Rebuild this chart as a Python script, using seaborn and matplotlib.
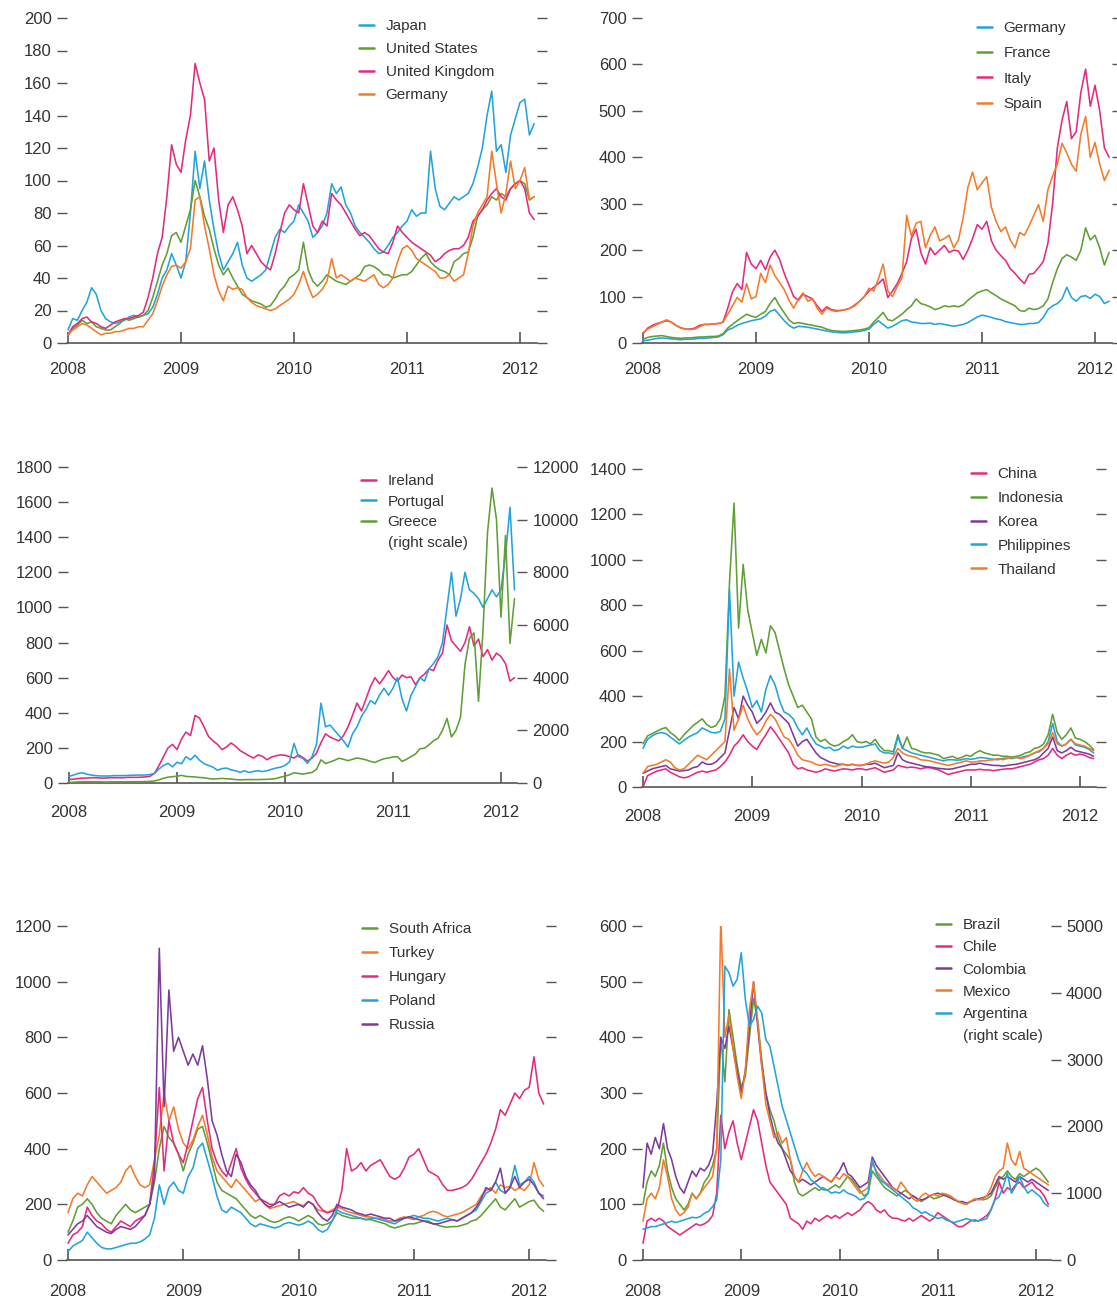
import numpy as np
import matplotlib
matplotlib.use("Agg")
import matplotlib.pyplot as plt
from matplotlib import font_manager
from matplotlib.lines import Line2D
import seaborn as sns

# half-monthly observations, Jan 2008 to Feb 2012
dates = 2008 + np.arange(100) / 24
years = [2008, 2009, 2010, 2011, 2012]

# --- panel 1 ---
japan = [8, 15, 14, 20, 25, 34, 30, 20, 15, 13,
         12, 13, 14, 16, 17, 16, 17, 18, 22, 30,
         40, 45, 55, 48, 40, 50, 80, 118, 95, 112,
         88, 70, 55, 45, 50, 55, 62, 48, 40, 38,
         40, 42, 45, 55, 65, 70, 68, 72, 75, 85,
         80, 75, 65, 68, 72, 80, 98, 92, 96, 85,
         80, 72, 68, 65, 62, 58, 55, 56, 60, 65,
         68, 72, 75, 82, 78, 80, 80, 118, 95, 84,
         82, 86, 90, 88, 90, 92, 98, 108, 120, 140,
         155, 118, 122, 105, 128, 138, 148, 150, 128, 135]
united_states = [5, 9, 11, 14, 12, 13, 10, 9, 8, 8,
                 10, 12, 15, 14, 15, 16, 17, 20, 28, 38,
                 48, 55, 66, 68, 62, 72, 82, 100, 90, 78,
                 70, 58, 48, 42, 46, 40, 35, 30, 28, 26,
                 25, 24, 22, 23, 27, 32, 35, 40, 42, 45,
                 62, 45, 38, 35, 38, 42, 40, 38, 37, 36,
                 38, 40, 42, 47, 48, 47, 45, 42, 42, 40,
                 41, 42, 42, 44, 48, 52, 55, 50, 47, 45,
                 44, 42, 50, 52, 55, 56, 65, 78, 82, 85,
                 90, 88, 92, 90, 95, 98, 100, 98, 88, 90]
united_kingdom = [5, 10, 12, 15, 16, 13, 12, 10, 9, 11,
                  13, 14, 15, 15, 16, 17, 19, 28, 40, 55,
                  65, 90, 122, 110, 105, 125, 140, 172, 160, 150,
                  112, 120, 88, 68, 85, 90, 82, 72, 55, 60,
                  55, 50, 47, 45, 55, 68, 80, 85, 82, 80,
                  98, 85, 72, 68, 75, 72, 92, 88, 85, 80,
                  75, 70, 66, 68, 66, 62, 58, 56, 55, 62,
                  72, 68, 65, 62, 60, 58, 56, 54, 50, 52,
                  55, 57, 58, 58, 60, 65, 75, 78, 82, 88,
                  92, 95, 90, 88, 95, 98, 100, 95, 80, 76]
germany_1 = [5, 8, 10, 12, 11, 9, 7, 5, 6, 6,
             7, 7, 8, 9, 9, 10, 10, 14, 18, 26,
             35, 42, 47, 48, 46, 50, 58, 88, 90, 72,
             58, 42, 32, 26, 35, 33, 34, 33, 28, 25,
             23, 22, 21, 20, 21, 23, 25, 27, 30, 36,
             44, 35, 28, 30, 33, 38, 52, 40, 42, 40,
             38, 40, 39, 38, 40, 42, 36, 34, 36, 40,
             50, 58, 60, 57, 52, 50, 48, 46, 44, 40,
             40, 42, 38, 40, 42, 55, 72, 80, 85, 90,
             118, 98, 80, 92, 112, 95, 100, 108, 88, 90]

# --- panel 2 ---
germany_2 = [5, 6, 8, 10, 11, 10, 9, 8, 7, 8,
             8, 9, 10, 10, 11, 12, 13, 18, 28, 32,
             38, 42, 45, 48, 50, 52, 58, 68, 72, 60,
             48, 38, 32, 36, 35, 34, 32, 30, 28, 26,
             24, 23, 22, 22, 23, 24, 25, 27, 30, 40,
             48, 40, 32, 36, 42, 48, 50, 45, 44, 42,
             42, 43, 40, 42, 40, 38, 36, 38, 40, 44,
             50, 56, 60, 58, 55, 52, 50, 46, 44, 42,
             40, 40, 42, 42, 44, 55, 72, 80, 85, 95,
             120, 98, 90, 100, 102, 96, 105, 100, 85, 90]
france = [8, 12, 14, 15, 16, 14, 12, 11, 10, 11,
          11, 12, 13, 13, 14, 14, 15, 20, 32, 40,
          48, 55, 62, 58, 55, 62, 68, 85, 98, 80,
          65, 50, 42, 44, 42, 40, 38, 36, 34, 30,
          27, 26, 25, 25, 26, 27, 28, 30, 33, 45,
          55, 66, 50, 48, 55, 62, 72, 80, 95, 85,
          82, 78, 72, 75, 80, 78, 80, 78, 82, 92,
          100, 108, 112, 115, 108, 102, 95, 90, 85, 80,
          70, 68, 75, 72, 74, 80, 95, 130, 160, 182,
          190, 185, 178, 200, 248, 222, 232, 205, 168, 195]
italy = [20, 32, 38, 42, 45, 48, 45, 38, 33, 30,
         30, 32, 38, 40, 40, 41, 42, 45, 75, 110,
         128, 115, 195, 170, 160, 178, 158, 185, 200, 180,
         150, 125, 100, 92, 105, 100, 95, 80, 68, 78,
         72, 70, 70, 72, 75, 82, 90, 100, 112, 120,
         128, 138, 98, 112, 128, 150, 175, 225, 245, 195,
         170, 205, 190, 200, 210, 195, 200, 198, 180, 200,
         225, 255, 245, 262, 220, 200, 188, 178, 160, 150,
         138, 128, 148, 150, 162, 175, 215, 300, 420, 480,
         520, 440, 455, 540, 590, 510, 555, 500, 420, 400]
spain = [22, 30, 35, 40, 45, 50, 45, 38, 32, 30,
         29, 30, 35, 40, 40, 41, 42, 45, 62, 80,
         98, 88, 128, 95, 100, 150, 130, 168, 145, 130,
         115, 92, 75, 95, 108, 90, 95, 75, 62, 75,
         70, 68, 70, 72, 75, 80, 90, 100, 118, 112,
         138, 170, 112, 100, 122, 140, 275, 230, 258, 262,
         205, 232, 250, 220, 225, 232, 205, 222, 270, 335,
         368, 330, 345, 358, 292, 262, 240, 250, 222, 205,
         238, 232, 252, 275, 298, 262, 330, 360, 385, 430,
         410, 385, 370, 450, 488, 400, 432, 385, 350, 372]

# --- panel 3 ---
ireland = [20, 22, 25, 28, 28, 30, 30, 28, 28, 30,
           30, 30, 30, 32, 32, 32, 33, 35, 38, 55,
           100, 150, 200, 220, 190, 250, 290, 270, 385, 370,
           320, 265, 240, 220, 190, 205, 228, 210, 185, 170,
           155, 142, 160, 152, 132, 148, 155, 160, 158, 150,
           142, 160, 145, 125, 142, 170, 230, 280, 262, 250,
           240, 270, 320, 385, 455, 410, 480, 550, 600, 565,
           600, 640, 600, 580, 615, 600, 605, 560, 600, 620,
           650, 640, 700, 740, 900, 810, 780, 750, 800, 890,
           780, 820, 720, 760, 700, 740, 720, 680, 580, 600]
portugal = [38, 45, 55, 58, 50, 45, 42, 40, 40, 40,
            42, 42, 42, 43, 44, 45, 45, 46, 48, 55,
            80, 100, 112, 92, 118, 110, 150, 132, 158, 130,
            110, 100, 90, 72, 82, 85, 75, 70, 60, 70,
            60, 66, 70, 65, 70, 78, 85, 90, 100, 120,
            225, 150, 140, 112, 150, 220, 455, 320, 330, 300,
            270, 240, 205, 280, 320, 380, 420, 470, 450, 500,
            540, 500, 540, 600, 480, 410, 500, 550, 600, 580,
            650, 680, 720, 800, 1000, 1200, 950, 1050, 1200, 1100,
            1080, 1050, 1000, 1050, 1100, 1060, 1100, 1300, 1570, 1100]
greece = [20, 30, 40, 45, 50, 50, 45, 45, 40, 40,
          45, 45, 45, 48, 50, 50, 52, 55, 60, 80,
          120, 180, 220, 240, 260, 290, 250, 240, 230, 210,
          200, 170, 150, 160, 175, 160, 150, 130, 120, 125,
          130, 128, 130, 135, 140, 150, 170, 220, 260, 310,
          390, 360, 340, 370, 400, 520, 880, 740, 800, 860,
          940, 900, 850, 900, 950, 920, 880, 820, 780, 860,
          920, 950, 990, 1000, 820, 900, 1000, 1100, 1300, 1320,
          1450, 1600, 1700, 2000, 2450, 1750, 2000, 2500, 4500, 5500,
          5700, 3100, 5800, 9500, 11200, 10000, 6300, 9400, 5300, 7000]

# --- panel 4 ---
china = [0, 50, 60, 70, 75, 80, 65, 55, 45, 40,
         45, 55, 65, 70, 65, 70, 75, 90, 110, 140,
         180, 200, 230, 200, 180, 165, 200, 230, 265, 240,
         210, 180, 150, 100, 80, 85, 75, 70, 65, 70,
         80, 75, 70, 75, 80, 78, 75, 80, 80, 75,
         80, 85, 75, 65, 70, 75, 95, 90, 85, 88,
         85, 80, 85, 85, 80, 75, 65, 55, 60, 65,
         70, 75, 75, 75, 78, 75, 75, 72, 75, 78,
         80, 80, 85, 90, 95, 100, 110, 120, 125, 140,
         170, 140, 125, 140, 150, 140, 145, 140, 130, 125]
indonesia = [190, 225, 235, 245, 255, 262, 240, 225, 205, 230,
             250, 270, 285, 300, 275, 262, 270, 300, 400, 900,
             1250, 700, 980, 780, 680, 580, 650, 590, 710, 680,
             600, 520, 450, 400, 350, 360, 330, 300, 220, 200,
             210, 190, 180, 185, 200, 210, 230, 200, 195, 200,
             190, 210, 180, 160, 160, 155, 230, 170, 220, 170,
             165, 155, 150, 150, 145, 140, 125, 130, 135, 125,
             130, 140, 135, 150, 160, 150, 145, 140, 140, 135,
             135, 132, 135, 140, 150, 155, 170, 175, 190, 230,
             320, 240, 210, 230, 260, 215, 210, 200, 185, 165]
korea = [60, 70, 80, 85, 90, 95, 80, 75, 70, 72,
         75, 85, 90, 110, 100, 100, 110, 130, 150, 250,
         350, 300, 400, 360, 330, 280, 300, 330, 370, 330,
         320, 300, 280, 230, 180, 200, 210, 180, 150, 130,
         120, 110, 105, 100, 100, 95, 100, 95, 95, 100,
         100, 105, 95, 85, 90, 95, 150, 120, 110, 105,
         100, 95, 90, 88, 85, 82, 80, 78, 80, 85,
         90, 95, 100, 100, 105, 100, 98, 95, 95, 92,
         95, 98, 100, 105, 110, 115, 120, 130, 150, 170,
         220, 160, 150, 160, 175, 160, 155, 150, 145, 135]
philippines = [170, 210, 225, 235, 240, 235, 220, 205, 190, 205,
               220, 230, 240, 260, 250, 240, 238, 245, 300, 870,
               400, 550, 480, 420, 350, 380, 330, 430, 490, 450,
               380, 330, 320, 300, 260, 230, 260, 220, 190, 180,
               170, 175, 160, 165, 180, 170, 180, 175, 175, 180,
               185, 190, 160, 150, 150, 145, 220, 170, 160, 150,
               145, 140, 135, 130, 125, 120, 115, 120, 120, 118,
               120, 125, 122, 125, 130, 128, 125, 122, 120, 125,
               128, 125, 130, 130, 135, 140, 150, 155, 170, 200,
               280, 200, 180, 190, 210, 185, 180, 175, 165, 150]
thailand = [60, 90, 95, 100, 110, 120, 110, 85, 75, 80,
            100, 120, 140, 130, 120, 140, 160, 180, 200, 520,
            250, 300, 360, 300, 260, 230, 250, 290, 320, 300,
            260, 220, 210, 180, 140, 120, 115, 110, 100, 95,
            100, 95, 90, 95, 100, 95, 100, 95, 95, 100,
            110, 115, 110, 105, 110, 130, 170, 150, 140, 135,
            130, 120, 118, 115, 110, 105, 100, 95, 100, 105,
            110, 115, 110, 110, 115, 115, 118, 120, 125, 120,
            125, 130, 130, 125, 130, 140, 150, 160, 170, 190,
            240, 190, 180, 190, 210, 190, 185, 180, 170, 160]

# --- panel 5 ---
south_africa = [100, 140, 190, 200, 220, 200, 170, 150, 140, 130,
                160, 180, 200, 180, 170, 180, 190, 200, 280, 400,
                480, 440, 420, 380, 320, 380, 420, 470, 480, 420,
                350, 280, 250, 240, 230, 220, 200, 180, 160, 150,
                160, 150, 140, 135, 140, 150, 155, 150, 140, 150,
                160, 150, 130, 125, 130, 140, 170, 160, 155, 150,
                150, 150, 145, 145, 140, 135, 130, 120, 115, 120,
                125, 130, 130, 135, 140, 140, 130, 125, 120, 118,
                120, 120, 125, 130, 140, 145, 160, 180, 200, 220,
                190, 180, 200, 220, 190, 200, 210, 215, 190, 175]
turkey = [170, 220, 240, 230, 270, 300, 280, 260, 240, 250,
          260, 280, 320, 340, 300, 270, 260, 270, 360, 450,
          600, 500, 550, 470, 420, 400, 430, 480, 520, 450,
          370, 320, 300, 280, 260, 290, 270, 250, 230, 210,
          220, 200, 185, 190, 195, 200, 205, 210, 200, 195,
          210, 200, 180, 175, 170, 180, 190, 185, 175, 170,
          165, 160, 155, 155, 150, 150, 145, 140, 140, 150,
          155, 150, 145, 155, 160, 170, 175, 170, 160, 155,
          160, 165, 170, 180, 190, 200, 230, 250, 260, 240,
          270, 260, 265, 250, 260, 250, 270, 350, 290, 265]
hungary = [60, 90, 100, 120, 190, 160, 140, 130, 110, 100,
           120, 140, 130, 120, 140, 150, 160, 200, 350, 620,
           320, 500, 420, 380, 350, 420, 500, 580, 620, 500,
           400, 350, 320, 300, 350, 400, 330, 290, 260, 240,
           220, 210, 200, 200, 230, 240, 230, 245, 240, 260,
           240, 230, 200, 180, 170, 175, 180, 250, 400, 320,
           330, 350, 320, 340, 350, 360, 330, 300, 290, 300,
           330, 370, 380, 400, 360, 320, 310, 300, 270, 250,
           250, 255, 260, 270, 290, 320, 350, 380, 420, 470,
           540, 520, 560, 600, 580, 610, 620, 730, 600, 560]
poland = [30, 50, 60, 70, 100, 80, 60, 45, 40, 40,
          45, 50, 55, 60, 60, 65, 75, 90, 150, 270,
          200, 260, 280, 250, 240, 300, 330, 400, 420, 360,
          300, 230, 180, 170, 190, 180, 170, 150, 130, 120,
          130, 125, 120, 115, 120, 130, 135, 130, 125, 130,
          140, 130, 110, 100, 110, 140, 180, 170, 165, 160,
          155, 150, 145, 150, 150, 145, 140, 135, 130, 140,
          150, 155, 160, 155, 150, 150, 145, 140, 145, 150,
          145, 140, 150, 160, 170, 180, 210, 240, 250, 280,
          250, 240, 260, 340, 270, 280, 300, 280, 240, 230]
russia = [90, 110, 130, 140, 160, 140, 120, 110, 100, 95,
          110, 120, 115, 110, 120, 140, 160, 200, 300, 1120,
          550, 970, 750, 800, 750, 700, 740, 700, 770, 650,
          500, 450, 380, 320, 300, 380, 350, 300, 270, 250,
          220, 200, 190, 200, 210, 200, 190, 195, 200, 190,
          210, 200, 170, 150, 140, 160, 200, 190, 185, 180,
          170, 165, 160, 165, 160, 155, 150, 150, 140, 145,
          150, 155, 150, 145, 140, 135, 130, 130, 135, 140,
          145, 140, 150, 160, 170, 190, 220, 260, 250, 280,
          330, 240, 260, 300, 260, 280, 290, 270, 240, 220]

# --- panel 6 ---
brazil = [100, 140, 160, 150, 170, 210, 160, 130, 110, 100,
          90, 100, 120, 110, 120, 140, 150, 170, 200, 400,
          320, 450, 400, 350, 310, 330, 400, 470, 430, 360,
          300, 270, 250, 220, 200, 190, 180, 140, 120, 115,
          120, 125, 130, 125, 130, 125, 130, 135, 130, 140,
          150, 145, 135, 125, 115, 120, 160, 150, 140, 130,
          125, 120, 115, 120, 125, 120, 115, 110, 105, 110,
          115, 110, 112, 115, 118, 115, 110, 105, 102, 100,
          105, 108, 110, 108, 110, 115, 130, 145, 150, 160,
          150, 145, 155, 150, 155, 160, 165, 160, 150, 140]
chile = [30, 70, 75, 70, 75, 70, 60, 55, 50, 45,
         50, 55, 60, 65, 62, 65, 70, 80, 120, 260,
         200, 230, 250, 210, 180, 210, 240, 270, 250, 210,
         170, 140, 130, 120, 110, 100, 75, 70, 65, 55,
         70, 65, 75, 70, 75, 80, 75, 80, 75, 80,
         85, 80, 85, 90, 100, 105, 100, 90, 85, 90,
         80, 75, 75, 72, 70, 75, 70, 75, 80, 75,
         70, 75, 85, 80, 75, 70, 65, 60, 60, 65,
         70, 72, 70, 75, 80, 90, 110, 140, 120, 130,
         125, 135, 140, 130, 135, 140, 130, 125, 115, 100]
colombia = [130, 210, 190, 220, 200, 245, 200, 180, 150, 130,
            120, 140, 160, 150, 165, 160, 170, 190, 280, 400,
            380, 420, 380, 340, 300, 340, 420, 500, 420, 350,
            300, 260, 230, 210, 200, 180, 160, 150, 140, 145,
            140, 135, 140, 145, 150, 145, 140, 150, 160, 175,
            155, 150, 140, 130, 135, 140, 185, 170, 160, 150,
            140, 130, 125, 120, 115, 110, 115, 110, 108, 110,
            115, 118, 120, 118, 115, 112, 108, 105, 105, 102,
            105, 108, 110, 112, 115, 120, 135, 150, 145, 150,
            145, 140, 150, 145, 140, 145, 140, 135, 130, 125]
mexico = [70, 110, 120, 110, 130, 180, 150, 110, 90, 80,
          85, 95, 120, 110, 120, 130, 140, 150, 200, 615,
          400, 440, 380, 330, 290, 340, 450, 500, 430, 350,
          280, 250, 220, 230, 210, 220, 180, 150, 140, 160,
          175, 160, 150, 155, 150, 145, 140, 150, 145, 155,
          150, 140, 130, 120, 125, 130, 175, 160, 150, 140,
          135, 130, 125, 140, 130, 120, 110, 105, 115, 120,
          115, 118, 115, 120, 118, 115, 110, 105, 102, 100,
          105, 110, 108, 110, 115, 130, 150, 160, 165, 210,
          180, 170, 195, 165, 160, 155, 150, 145, 140, 135]
argentina = [460, 480, 500, 500, 520, 540, 560, 580, 560, 580,
             600, 620, 640, 630, 650, 700, 730, 800, 900, 1500,
             4400, 4300, 4100, 4200, 4600, 3900, 3500, 3600, 3800, 3700,
             3300, 3200, 2900, 2600, 2300, 2100, 1900, 1700, 1500, 1350,
             1300, 1200, 1150, 1100, 1050, 1050, 1000, 1020, 1000, 1050,
             1000, 980, 950, 900, 920, 1000, 1500, 1300, 1200, 1150,
             1100, 1050, 1000, 950, 900, 850, 780, 750, 700, 720,
             680, 650, 620, 640, 600, 580, 560, 580, 600, 620,
             600, 580, 590, 600, 620, 750, 900, 950, 1100, 1300,
             1000, 1100, 1250, 1100, 1000, 1050, 1000, 950, 850, 800]

BLUE = "#23a3dd"
GREEN = "#5f9f34"
MAGENTA = "#e42a7f"
ORANGE = "#f47a2a"
PURPLE = "#7e3b9e"
TEXT = "#333333"
AXIS = "#555555"


def pick_font(names):
    for n in names:
        try:
            font_manager.findfont(font_manager.FontProperties(family=n),
                                  fallback_to_default=False)
            return n
        except Exception:
            pass
    return "DejaVu Sans"


sns.set_theme(style="white")
FONT = pick_font(["Liberation Sans Narrow", "Liberation Sans"])
plt.rcParams["font.family"] = [FONT, "DejaVu Sans"]
NARROW = FONT == "Liberation Sans Narrow"
TICK_FS = 13.5 if NARROW else 12
LEG_FS = 12.5 if NARROW else 11

W, H = 1117, 1300
fig = plt.figure(figsize=(W / 100, H / 100), dpi=100)
XMIN, XMAX = 2007.99, 2012.15

panels = [
    dict(pos=(68, 113, 18, 343), yticks=range(0, 201, 20), pad=14,
         series=[("Japan", japan, BLUE), ("United States", united_states, GREEN),
                 ("United Kingdom", united_kingdom, MAGENTA), ("Germany", germany_1, ORANGE)],
         leg=(359, 19, 0.6)),
    dict(pos=(643, 113, 18, 343), yticks=range(0, 701, 100), pad=14,
         series=[("Germany", germany_2, BLUE), ("France", france, GREEN),
                 ("Italy", italy, MAGENTA), ("Spain", spain, ORANGE)],
         leg=(977, 21, 0.74)),
    dict(pos=(69, 108, 467, 783), yticks=range(0, 1801, 200), pad=16,
         series=[("Ireland", ireland, MAGENTA), ("Portugal", portugal, BLUE)],
         right=("Greece", greece, GREEN, range(0, 12001, 2000)),
         leg=(361, 474, 0.43)),
    dict(pos=(643, 109.25, 469, 787), yticks=range(0, 1401, 200), pad=16,
         series=[("China", china, MAGENTA), ("Indonesia", indonesia, GREEN),
                 ("Korea", korea, PURPLE), ("Philippines", philippines, BLUE),
                 ("Thailand", thailand, ORANGE)],
         leg=(971, 467, 0.65)),
    dict(pos=(68, 115.3, 926, 1260), yticks=range(0, 1201, 200), pad=17,
         series=[("South Africa", south_africa, GREEN), ("Turkey", turkey, ORANGE),
                 ("Hungary", hungary, MAGENTA), ("Poland", poland, BLUE),
                 ("Russia", russia, PURPLE)],
         leg=(362, 922, 0.66)),
    dict(pos=(643, 98.25, 926, 1260), yticks=range(0, 601, 100), pad=17,
         series=[("Brazil", brazil, GREEN), ("Chile", chile, MAGENTA),
                 ("Colombia", colombia, PURPLE), ("Mexico", mexico, ORANGE)],
         right=("Argentina", argentina, BLUE, range(0, 5001, 1000)),
         leg=(936, 918, 0.54)),
]


def style_y(ax, side, ticks):
    ax.set_yticks(list(ticks))
    ax.tick_params(axis="y", direction="out", length=7, width=1.0, color=AXIS,
                   pad=4, labelsize=TICK_FS, labelcolor=TEXT,
                   left=side in ("left", "both"),
                   right=side in ("right", "both"),
                   labelleft=side != "right",
                   labelright=side == "right")


for p in panels:
    x0, ppy, top, bottom = p["pos"]
    left = x0 + (XMIN - 2008) * ppy
    right = x0 + (XMAX - 2008) * ppy
    ax = fig.add_axes([left / W, 1 - bottom / H, (right - left) / W, (bottom - top) / H])

    handles, labels = [], []
    for name, vals, col in p["series"]:
        sns.lineplot(x=dates, y=vals, ax=ax, color=col, linewidth=1.15,
                     estimator=None, sort=False, legend=False)
        handles.append(Line2D([0], [0], color=col, lw=1.8))
        labels.append(name)

    yt = list(p["yticks"])
    ax.set_xlim(XMIN, XMAX)
    ax.set_ylim(0, yt[-1])
    ax.set_xticks(years)
    ax.set_xticklabels([str(y) for y in years])
    ax.set_xlabel("")
    ax.set_ylabel("")
    for s in ["left", "right", "top"]:
        ax.spines[s].set_visible(False)
    ax.spines["bottom"].set_color(AXIS)
    ax.spines["bottom"].set_linewidth(1.2)
    ax.tick_params(axis="x", direction="in", length=8, width=1.2, color=AXIS,
                   pad=p["pad"], labelsize=TICK_FS, labelcolor=TEXT, bottom=True)
    ax.grid(False)

    leg_ax = ax
    if "right" in p:
        style_y(ax, "left", yt)
        name, vals, col, rticks = p["right"]
        ax2 = ax.twinx()
        sns.lineplot(x=dates, y=vals, ax=ax2, color=col, linewidth=1.15,
                     estimator=None, sort=False, legend=False)
        rt = list(rticks)
        ax2.set_ylim(0, rt[-1])
        ax2.set_xlim(XMIN, XMAX)
        ax2.set_ylabel("")
        for s in ["left", "right", "top", "bottom"]:
            ax2.spines[s].set_visible(False)
        style_y(ax2, "right", rt)
        ax2.grid(False)
        handles.append(Line2D([0], [0], color=col, lw=1.8))
        labels.append(name)
        handles.append(Line2D([], [], color="none"))
        labels.append("(right scale)")
        leg_ax = ax2
    else:
        style_y(ax, "both", yt)

    lx, ly, lsp = p["leg"]
    leg_ax.legend(handles, labels, loc="upper left",
                  bbox_to_anchor=(lx / W, 1 - ly / H), bbox_transform=fig.transFigure,
                  frameon=False, fontsize=LEG_FS, handlelength=1.0, handletextpad=0.75,
                  labelspacing=lsp, borderpad=0, borderaxespad=0, labelcolor=TEXT)

fig.savefig("out.png", dpi=100)
